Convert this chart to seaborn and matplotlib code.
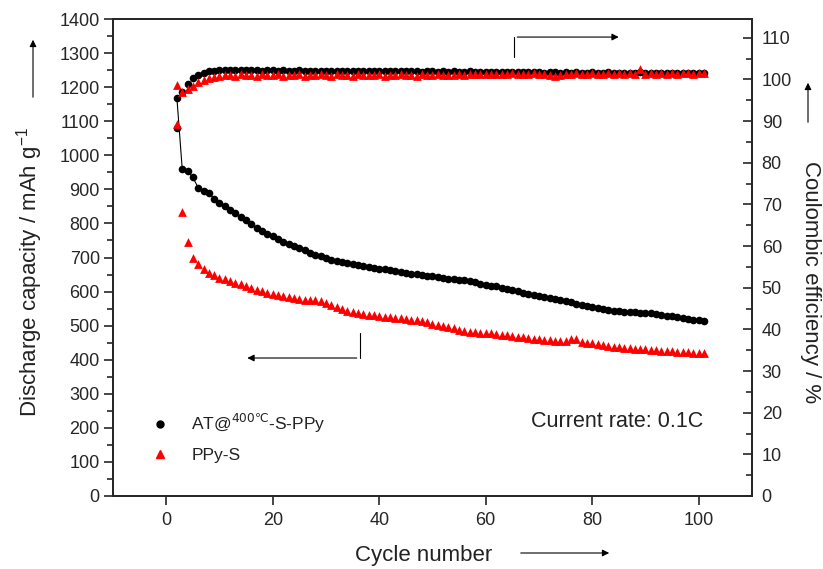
import matplotlib
matplotlib.use("Agg")
import matplotlib.pyplot as plt
from matplotlib.ticker import MultipleLocator
from matplotlib.lines import Line2D
from matplotlib.patches import FancyArrowPatch
import seaborn as sns

sns.set_style("ticks")
plt.rcParams['font.family'] = ['Liberation Sans', 'DejaVu Sans']
plt.rcParams['mathtext.fontset'] = 'dejavusans'

# data, cycles 2..101
cycles = list(range(2, 102))

cap_at = [1168, 960, 953, 935, 905, 896, 888, 872, 860, 852,
          840, 830, 820, 810, 797, 786, 778, 770, 762, 753,
          746, 740, 733, 727, 721, 714, 708, 703, 698, 694,
          690, 688, 685, 682, 679, 676, 673, 670, 667, 665,
          662, 660, 658, 655, 653, 651, 649, 647, 645, 642,
          640, 637, 636, 634, 633, 631, 627, 622, 619, 617,
          615, 611, 608, 605, 601, 597, 594, 590, 588, 585,
          581, 578, 574, 571, 568, 564, 560, 557, 554, 551,
          548, 546, 544, 543, 541, 540, 539, 538, 537, 536,
          534, 531, 529, 527, 524, 522, 520, 518, 517, 515]

cap_ppy = [1206, 833, 745, 700, 681, 665, 655, 648, 641, 636,
           631, 626, 621, 616, 611, 606, 601, 597, 593, 589,
           586, 583, 580, 578, 576, 575, 574, 572, 566, 560,
           554, 548, 543, 540, 537, 535, 532, 530, 528, 526,
           524, 522, 521, 519, 518, 516, 513, 510, 506, 502,
           499, 496, 492, 487, 483, 481, 480, 479, 478, 477,
           476, 474, 472, 470, 468, 466, 464, 462, 460, 458,
           457, 456, 455, 455, 462, 462, 452, 450, 448, 446,
           443, 440, 438, 437, 435, 434, 432, 431, 430, 429,
           428, 427, 426, 425, 424, 423, 422, 421, 420, 420]

ce_at = [88.4, 97.0, 98.8, 100.3, 101.0, 101.6, 101.9, 102.1, 102.2, 102.2,
         102.3, 102.2, 102.2, 102.3, 102.2, 102.2, 102.1, 102.2, 102.2, 102.1,
         102.2, 102.1, 102.1, 102.2, 102.1, 102.0, 102.1, 102.1, 102.0, 102.1,
         102.0, 102.0, 102.1, 102.0, 101.9, 102.0, 102.0, 101.9, 102.0, 101.9,
         102.0, 101.9, 101.9, 102.0, 101.9, 101.9, 101.8, 101.9, 101.9, 101.8,
         101.9, 101.8, 101.9, 101.8, 101.8, 101.9, 101.8, 101.7, 101.8, 101.8,
         101.7, 101.8, 101.7, 101.8, 101.7, 101.7, 101.8, 101.7, 101.7, 101.6,
         101.7, 101.7, 101.6, 101.7, 101.6, 101.7, 101.6, 101.6, 101.7, 101.6,
         101.6, 101.7, 101.6, 101.6, 101.5, 101.6, 101.6, 101.7, 101.6, 101.6,
         101.5, 101.6, 101.6, 101.5, 101.6, 101.6, 101.5, 101.6, 101.6, 101.5]

ce_ppy = [89.3, 96.9, 97.7, 98.5, 99.3, 99.8, 100.3, 100.6, 100.8, 101.0,
          101.1, 100.9, 101.2, 101.0, 101.1, 100.9, 101.2, 101.0, 101.0, 101.2,
          100.9, 101.1, 101.0, 101.2, 100.9, 101.1, 101.0, 101.2, 101.0, 100.9,
          101.2, 101.0, 101.1, 100.9, 101.2, 101.0, 101.1, 101.0, 101.2, 100.9,
          101.1, 101.0, 101.2, 101.0, 101.1, 100.9, 101.2, 101.1, 101.0, 101.2,
          101.0, 101.1, 101.0, 101.2, 101.1, 101.3, 101.2, 101.4, 101.2, 101.3,
          101.4, 101.2, 101.3, 101.5, 101.2, 101.4, 101.3, 101.5, 101.2, 101.4,
          101.0, 100.9, 101.1, 101.4, 101.3, 101.5, 101.3, 101.4, 101.6, 101.3,
          101.4, 101.5, 101.3, 101.6, 101.4, 101.5, 101.3, 102.6, 101.4, 101.6,
          101.3, 101.5, 101.4, 101.6, 101.3, 101.5, 101.6, 101.4, 101.6, 101.5]

fig = plt.figure(figsize=(8.23, 5.69), dpi=100)
ax = fig.add_axes([0.1373, 0.1283, 0.7764, 0.8383])
ax2 = ax.twinx()

sns.lineplot(x=cycles, y=cap_at, ax=ax, color='black', linewidth=0.8,
             marker='o', markersize=5.5, markeredgewidth=0, zorder=3)
sns.scatterplot(x=cycles, y=cap_ppy, ax=ax, color='red', marker='^',
                s=40, linewidth=0, zorder=3)
sns.scatterplot(x=cycles, y=ce_at, ax=ax2, color='black', marker='o',
                s=30, linewidth=0)
sns.scatterplot(x=cycles, y=ce_ppy, ax=ax2, color='red', marker='^',
                s=40, linewidth=0)

ax.set_xlim(-10, 110)
ax.set_ylim(0, 1400)
ax2.set_ylim(0, 114.5)
ax.xaxis.set_major_locator(MultipleLocator(20))
ax.yaxis.set_major_locator(MultipleLocator(100))
ax.yaxis.set_minor_locator(MultipleLocator(50))
ax2.yaxis.set_major_locator(MultipleLocator(10))
ax2.yaxis.set_minor_locator(MultipleLocator(5))

for a in (ax, ax2):
    for s in a.spines.values():
        s.set_linewidth(1.3)
        s.set_visible(True)
ax.tick_params(axis='both', which='major', direction='out', length=6.5, width=1.2,
               labelsize=13, pad=3, top=False, right=False)
ax.tick_params(axis='y', which='minor', direction='out', length=4, width=1.2)
ax.tick_params(axis='x', pad=5)
ax2.tick_params(axis='y', which='major', direction='in', length=6.5, width=1.2,
                labelsize=13, pad=7)
ax2.tick_params(axis='y', which='minor', direction='in', length=4, width=1.2)
ax.set_xlabel('')
ax.set_ylabel('')
ax2.set_ylabel('')

# axis titles with arrows
fig.text(30 / 823, 1 - 272 / 569, 'Discharge capacity / mAh g$^{\\mathregular{-1}}$',
         rotation=90, ha='center', va='center', fontsize=16, color='#222222')
fig.text(811 / 823, 1 - 282 / 569, 'Coulombic efficiency / %',
         rotation=270, ha='center', va='center', fontsize=16, color='#222222')
fig.text(424 / 823, 1 - 555 / 569, 'Cycle number',
         ha='center', va='center', fontsize=16, color='#222222')

arrow = dict(arrowstyle='-|>', color='black', lw=0.8, mutation_scale=10)
fig.add_artist(FancyArrowPatch((33 / 823, 1 - 100 / 569), (33 / 823, 1 - 37 / 569),
                               transform=fig.transFigure, **arrow))
fig.add_artist(FancyArrowPatch((808 / 823, 1 - 125 / 569), (808 / 823, 1 - 80 / 569),
                               transform=fig.transFigure, **arrow))
fig.add_artist(FancyArrowPatch((518 / 823, 1 - 553 / 569), (612 / 823, 1 - 553 / 569),
                               transform=fig.transFigure, **arrow))

# in-plot arrows pointing to the axes
ax.plot([65.4, 65.4], [1288, 1347], color='black', lw=0.8)
ax.annotate('', xy=(85.5, 1347), xytext=(65.4, 1347), arrowprops=arrow)
ax.plot([36.3, 36.3], [478, 405], color='black', lw=0.8)
ax.annotate('', xy=(14.7, 405), xytext=(36.3, 405), arrowprops=arrow)

ax.text(84.7, 220, 'Current rate: 0.1C', ha='center', va='center',
        fontsize=15.5, color='#222222')

handles = [Line2D([], [], color='black', marker='o', linestyle='none', markersize=5),
           Line2D([], [], color='red', marker='^', linestyle='none', markersize=5.5)]
labels = ['AT@$^{\\mathrm{400℃}}$-S-PPy', 'PPy-S']
leg = ax.legend(handles, labels, loc='center left', bbox_to_anchor=(0.022, 0.123),
                frameon=False, fontsize=12.5, handlelength=2, handletextpad=0.8,
                labelspacing=0.75)
for t in leg.get_texts():
    t.set_color('#222222')

fig.savefig('out.png', dpi=100)
